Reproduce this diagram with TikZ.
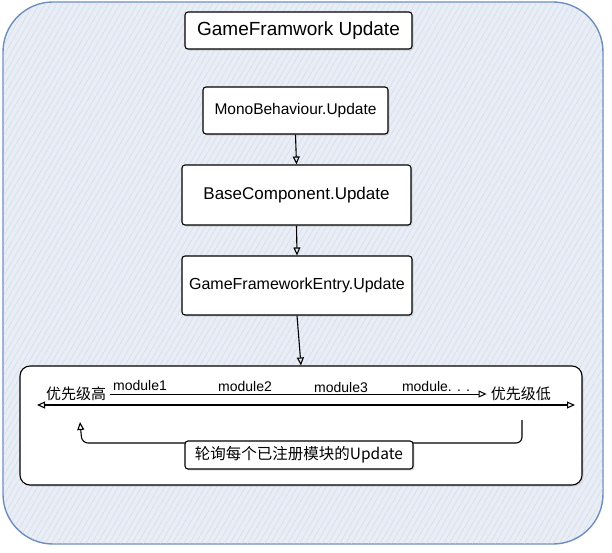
\documentclass[tikz,border=0pt]{standalone}
\usepackage{fontspec}
\setmainfont{Liberation Sans}
\newfontfamily\cjk{Noto Sans CJK SC}
\usetikzlibrary{arrows.meta,patterns.meta,shadows}
\definecolor{outerfill}{HTML}{E9EDF6}
\definecolor{outerhatch}{HTML}{D3DBEB}
\definecolor{outerline}{HTML}{6C8EBF}
\tikzset{
  box/.style={draw=black, line width=1.1pt, fill=white, rounded corners=3pt,
    drop shadow={shadow xshift=1.5pt, shadow yshift=-1.5pt, opacity=0.25}},
  tip/.tip={Triangle[open,length=8pt,width=7pt]},
  arr/.style={-tip, line width=1.1pt},
  lbl/.style={font=\fontsize{14}{16}\selectfont, inner sep=0pt},
}
\begin{document}
\begin{tikzpicture}[x=1pt,y=-1pt]
\useasboundingbox (0,0) rectangle (612,552);
% outer container
\node[draw=outerline, line width=1.4pt, fill=outerfill, rounded corners=50pt,
  minimum width=600pt, minimum height=542pt, inner sep=0pt] (outer) at (303,273) {};
\fill[pattern={Lines[angle=60,distance=5pt,line width=0.5pt]}, pattern color=outerhatch,
  rounded corners=50pt] (3.5,2.5) rectangle (602.5,543.5);
% title
\node[box, minimum width=227pt, minimum height=37pt, inner sep=0pt,
  font=\fontsize{19}{21}\selectfont] (title) at (298.5,30.5) {GameFramwork Update};
% chain
\node[box, minimum width=185pt, minimum height=47pt, inner sep=0pt, font=\fontsize{15.5}{18}\selectfont] (mono) at (295.5,110.5) {MonoBehaviour.Update};
\node[box, minimum width=229pt, minimum height=60pt, inner sep=0pt, font=\fontsize{17}{19}\selectfont] (base) at (296.5,195) {BaseComponent.Update};
\node[box, minimum width=230pt, minimum height=59pt, inner sep=0pt, font=\fontsize{16}{18}\selectfont] (entry) at (297,285.5) {GameFrameworkEntry.Update};
% bottom box
\node[box, minimum width=562pt, minimum height=119pt, inner sep=0pt, rounded corners=10pt] (modbox) at (301,425.5) {};
\draw[arr] (mono.south) -- (base.north);
\draw[arr] (base.south) -- (entry.north);
\draw[arr] (entry.south) -- (modbox.north);
% priority line
\node[lbl, font=\cjk\fontsize{15}{17}\selectfont, anchor=west] (hi) at (46,394) {优先级高};
\node[lbl, font=\cjk\fontsize{15}{17}\selectfont, anchor=east] (lo) at (551,394) {优先级低};
\draw[arr, line width=1pt] ([xshift=4pt]hi.east) -- ([xshift=-4pt]lo.west);
\node[lbl] (m1) at (140,385) {module1};
\node[lbl] (m2) at (245,386) {module2};
\node[lbl] (m3) at (341,387) {module3};
\node[lbl] (m4) at (436,386) {module. . .};
% double arrow
\coordinate (dl) at (37,405);
\coordinate (dr) at (575,405);
\draw[tip-tip, line width=1.1pt] (dl) -- (dr);
% return arrow
\coordinate (rs) at (522,420);
\coordinate (re) at (80,422);
\draw[arr, rounded corners=6pt] (rs) -- (522,443) -- (82,443) -- (re);
% caption
\node[box, minimum width=228pt, minimum height=28pt, inner sep=0pt, font=\cjk\fontsize{15.5}{17}\selectfont] (cap) at (299,455) {轮询每个已注册模块的Update};
\end{tikzpicture}
\end{document}
